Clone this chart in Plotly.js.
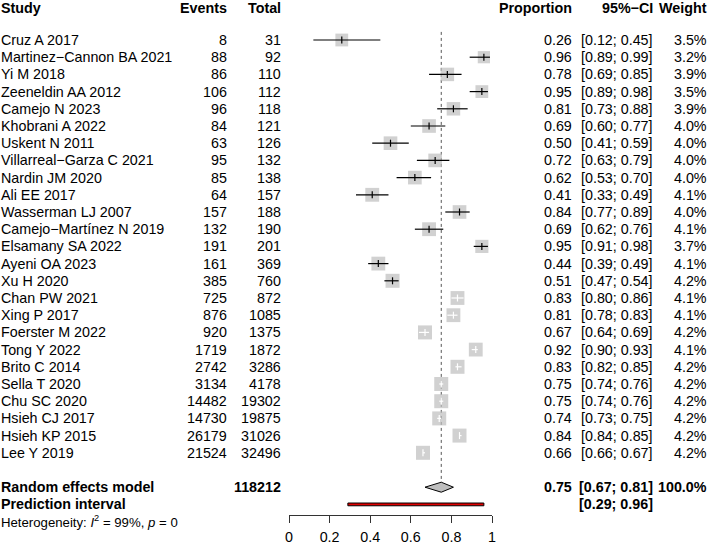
<!DOCTYPE html>
<html><head><meta charset="utf-8">
<script src="https://cdn.plot.ly/plotly-3.0.1.min.js"></script>
<style>html,body{margin:0;padding:0;background:#fff}#chart{width:709px;height:545px}</style>
</head><body><div id="chart"></div>
<script>
// ---- data ----
const studies = ["Cruz A 2017","Martinez\u2212Cannon BA 2021","Yi M 2018","Zeeneldin AA 2012","Camejo N 2023","Khobrani A 2022","Uskent N 2011","Villarreal\u2212Garza C 2021","Nardin JM 2020","Ali EE 2017","Wasserman LJ 2007","Camejo\u2212Mart\u00ednez N 2019","Elsamany SA 2022","Ayeni OA 2023","Xu H 2020","Chan PW 2021","Xing P 2017","Foerster M 2022","Tong Y 2022","Brito C 2014","Sella T 2020","Chu SC 2020","Hsieh CJ 2017","Hsieh KP 2015","Lee Y 2019"];
const events = [8,88,86,106,96,84,63,95,85,64,157,132,191,161,385,725,876,920,1719,2742,3134,14482,14730,26179,21524];
const totals = [31,92,110,112,118,121,126,132,138,157,188,190,201,369,760,872,1085,1375,1872,3286,4178,19302,19875,31026,32496];
const props  = [0.26,0.96,0.78,0.95,0.81,0.69,0.50,0.72,0.62,0.41,0.84,0.69,0.95,0.44,0.51,0.83,0.81,0.67,0.92,0.83,0.75,0.75,0.74,0.84,0.66];
const lower  = [0.12,0.89,0.69,0.89,0.73,0.60,0.41,0.63,0.53,0.33,0.77,0.62,0.91,0.39,0.47,0.80,0.78,0.64,0.90,0.82,0.74,0.74,0.73,0.84,0.66];
const upper  = [0.45,0.99,0.85,0.98,0.88,0.77,0.59,0.79,0.70,0.49,0.89,0.76,0.98,0.49,0.54,0.86,0.83,0.69,0.93,0.85,0.76,0.76,0.75,0.85,0.67];
const weights = [3.5,3.2,3.9,3.5,3.9,4.0,4.0,4.0,4.0,4.1,4.0,4.1,3.7,4.1,4.2,4.1,4.1,4.2,4.1,4.2,4.2,4.2,4.2,4.2,4.2];
const pooledTotal = 118212;
const pooledEst = 0.75, pooledLower = 0.67, pooledUpper = 0.81, pooledWeight = 100.0;
const predLower = 0.29, predUpper = 0.96;
const hetI2 = 99, hetP = 0;
const tickVals = [0,0.2,0.4,0.6,0.8,1];
const tickText = ["0","0.2","0.4","0.6","0.8","1"];
const headers = ["Study","Events","Total","Proportion","95%\u2212CI","Weight"];

// ---- layout geometry ----
const W = 709, H = 545;
const FONT = "Liberation Sans, Arial, Helvetica, sans-serif";
const FS = 14.3;
const pxPerRow = 17.2, firstRowPx = 40;
const yTop = -firstRowPx/pxPerRow, yBottom = (H-firstRowPx)/pxPerRow;
const xLeftPx = 289, xRightPx = 492;
const rowHeader = -1.88, rowPooled = 26, rowPred = 27, rowHet = 28;
const rows = studies.map((_, i) => i);
const boxMax = 14;
const sizes = weights.map(w => boxMax*Math.sqrt(w/4.2));
const halfUnits = sizes.map(s => s/2/(xRightPx-xLeftPx));
const inside = props.map((p,i) => (p-lower[i]) <= halfUnits[i] && (upper[i]-p) <= halfUnits[i]);

function segs(sel) {
  const x = [], y = [];
  rows.forEach(i => { if (sel(i)) { x.push(lower[i], upper[i], null); y.push(i, i, null); } });
  return {x, y};
}
const blk = segs(i => !inside[i]);
const wht = segs(i => inside[i]);

const traces = [
  {type:'scatter', mode:'lines', x:[pooledEst,pooledEst], y:[-0.47, rowPooled-0.3],
   line:{color:'#555', width:1, dash:'dot'}, hoverinfo:'skip', cliponaxis:false},
  {type:'scatter', mode:'markers', x:props, y:rows,
   marker:{symbol:'square', size:sizes, color:'#BEBEBE', line:{width:0}}, cliponaxis:false, hoverinfo:'skip'},
  {type:'scatter', mode:'lines', x:blk.x, y:blk.y, line:{color:'#000', width:1.2}, cliponaxis:false, hoverinfo:'skip', connectgaps:false},
  {type:'scatter', mode:'lines', x:wht.x, y:wht.y, line:{color:'#fff', width:1.2}, cliponaxis:false, hoverinfo:'skip', connectgaps:false},
  {type:'scatter', mode:'markers', x:props.filter((_,i)=>!inside[i]), y:rows.filter(i=>!inside[i]),
   marker:{symbol:'line-ns', size:5, line:{color:'#000', width:1.2}}, cliponaxis:false, hoverinfo:'skip'},
  {type:'scatter', mode:'markers', x:props.filter((_,i)=>inside[i]), y:rows.filter(i=>inside[i]),
   marker:{symbol:'line-ns', size:5, line:{color:'#fff', width:1.2}}, cliponaxis:false, hoverinfo:'skip'},
  {type:'scatter', mode:'lines', fill:'toself', fillcolor:'#BEBEBE',
   x:[pooledLower,pooledEst,pooledUpper,pooledEst,pooledLower],
   y:[rowPooled,rowPooled-0.29,rowPooled,rowPooled+0.29,rowPooled],
   line:{color:'#000', width:1}, cliponaxis:false, hoverinfo:'skip'},
  {type:'scatter', mode:'lines', fill:'toself', fillcolor:'#E00000',
   x:[predLower,predUpper,predUpper,predLower,predLower],
   y:[rowPred-0.08,rowPred-0.08,rowPred+0.08,rowPred+0.08,rowPred-0.08],
   line:{color:'#000', width:1}, cliponaxis:false, hoverinfo:'skip'}
];

function ann(text, xpx, row, anchor, extra) {
  return Object.assign({xref:'paper', yref:'y', x:xpx/W, y:row, text:text, xanchor:anchor, yanchor:'middle',
    showarrow:false, borderpad:0, borderwidth:0, font:{family:FONT, size:FS, color:'#000'}}, extra||{});
}
const colX = {study:1, events:227, total:281, prop:572, ci:653, weight:707};
const annotations = [];
const hdrX = [colX.study, colX.events, colX.total, colX.prop, colX.ci, colX.weight];
const hdrA = ['left','right','right','right','right','right'];
headers.forEach((h,k) => annotations.push(ann('<b>'+h+'</b>', hdrX[k], rowHeader, hdrA[k])));
rows.forEach(i => {
  annotations.push(ann(studies[i], colX.study, i, 'left'));
  annotations.push(ann(String(events[i]), colX.events, i, 'right'));
  annotations.push(ann(String(totals[i]), colX.total, i, 'right'));
  annotations.push(ann(props[i].toFixed(2), colX.prop, i, 'right'));
  annotations.push(ann('['+lower[i].toFixed(2)+'; '+upper[i].toFixed(2)+']', colX.ci, i, 'right'));
  annotations.push(ann(weights[i].toFixed(1)+'%', colX.weight, i, 'right'));
});
annotations.push(ann('<b>Random effects model</b>', colX.study, rowPooled, 'left'));
annotations.push(ann('<b>'+pooledTotal+'</b>', colX.total, rowPooled, 'right'));
annotations.push(ann('<b>'+pooledEst.toFixed(2)+'</b>', colX.prop, rowPooled, 'right'));
annotations.push(ann('<b>['+pooledLower.toFixed(2)+'; '+pooledUpper.toFixed(2)+']</b>', colX.ci, rowPooled, 'right'));
annotations.push(ann('<b>'+pooledWeight.toFixed(1)+'%</b>', colX.weight, rowPooled, 'right'));
annotations.push(ann('<b>Prediction interval</b>', colX.study, rowPred, 'left'));
annotations.push(ann('<b>['+predLower.toFixed(2)+'; '+predUpper.toFixed(2)+']</b>', colX.ci, rowPred, 'right'));
annotations.push(ann('Heterogeneity: <i>I</i><sup>2</sup> = '+hetI2+'%, <i>p</i> = '+hetP, colX.study, rowHet, 'left', {font:{family:FONT, size:13.2, color:'#000'}}));

const layout = {
  width:W, height:H, margin:{l:0,r:0,t:0,b:0}, showlegend:false,
  paper_bgcolor:'#fff', plot_bgcolor:'rgba(0,0,0,0)',
  xaxis:{domain:[xLeftPx/W, xRightPx/W], range:[0,1], anchor:'free', position:(H-515)/H,
    tickmode:'array', tickvals:tickVals, ticktext:tickText, ticks:'outside', ticklen:7, tickwidth:1,
    tickcolor:'#333', showline:true, linecolor:'#333', linewidth:1, showgrid:false, zeroline:false,
    tickfont:{family:FONT, size:FS, color:'#000'}, ticklabelstandoff:2, fixedrange:true},
  yaxis:{domain:[0,1], range:[yBottom, yTop], visible:false, showgrid:false, zeroline:false, fixedrange:true},
  annotations:annotations
};
Plotly.newPlot('chart', traces, layout, {displayModeBar:false, staticPlot:true});
</script></body></html>
